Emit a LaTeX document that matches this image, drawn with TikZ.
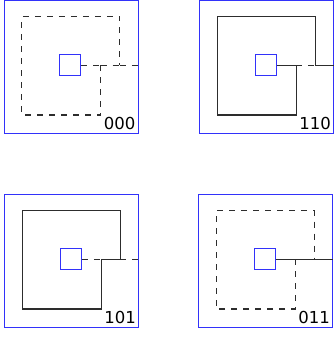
\documentclass[tikz,border=0pt]{standalone}
\usepackage{fontspec}
\setmainfont{DejaVu Sans}
\definecolor{framecol}{RGB}{50,50,250}
\definecolor{wirecol}{RGB}{45,45,45}
\tikzset{
  frame/.style={draw=framecol, line width=1.2pt, minimum width=134pt, minimum height=133pt, inner sep=0pt, anchor=north west},
  hub/.style={draw=framecol, line width=1.1pt, minimum size=21pt, inner sep=0pt},
  wire/.style={draw=wirecol, line width=1.1pt},
  solidw/.style={wire},
  dashw/.style={wire, dash pattern=on 6pt off 6pt},
  tag/.style={font=\fontsize{16.5}{16.5}\selectfont, anchor=base east, inner sep=0pt},
}
\newcommand\drawpanel[8]{%
  \begin{scope}[shift={(#2,#3)}]
    \node[frame] (#1f) at (0,0) {};
    \node[hub] (#1s) at (66.7,65.2) {};
    \coordinate (#1j) at (97.2,65.2);
    \coordinate (#1k) at (116.3,65.2);
    \coordinate (#1e) at (#1f.east |- #1j);
    \draw[#5] (#1s.east) -- (#1j);
    \draw[#6] (#1j) -- (#1k);
    \draw[#7] (#1k) -- (#1e);
    \draw[#8] (#1j) |- (18.4,115) |- (116.3,16.5) -- (#1k);
    \node[tag] (#1t) at (132,129.5) {#4};
  \end{scope}}
\begin{document}
\begin{tikzpicture}[x=1pt,y=-1pt]
  \useasboundingbox (0,0) rectangle (334,339);
  \drawpanel{a}{3.5}{0}{000}{dashw}{dashw}{dashw}{dashw}
  \drawpanel{b}{199}{0}{110}{solidw}{dashw}{solidw}{solidw}
  \drawpanel{c}{4}{194}{101}{dashw}{solidw}{dashw}{solidw}
  \drawpanel{d}{198}{194}{011}{solidw}{solidw}{solidw}{dashw}
\end{tikzpicture}
\end{document}
